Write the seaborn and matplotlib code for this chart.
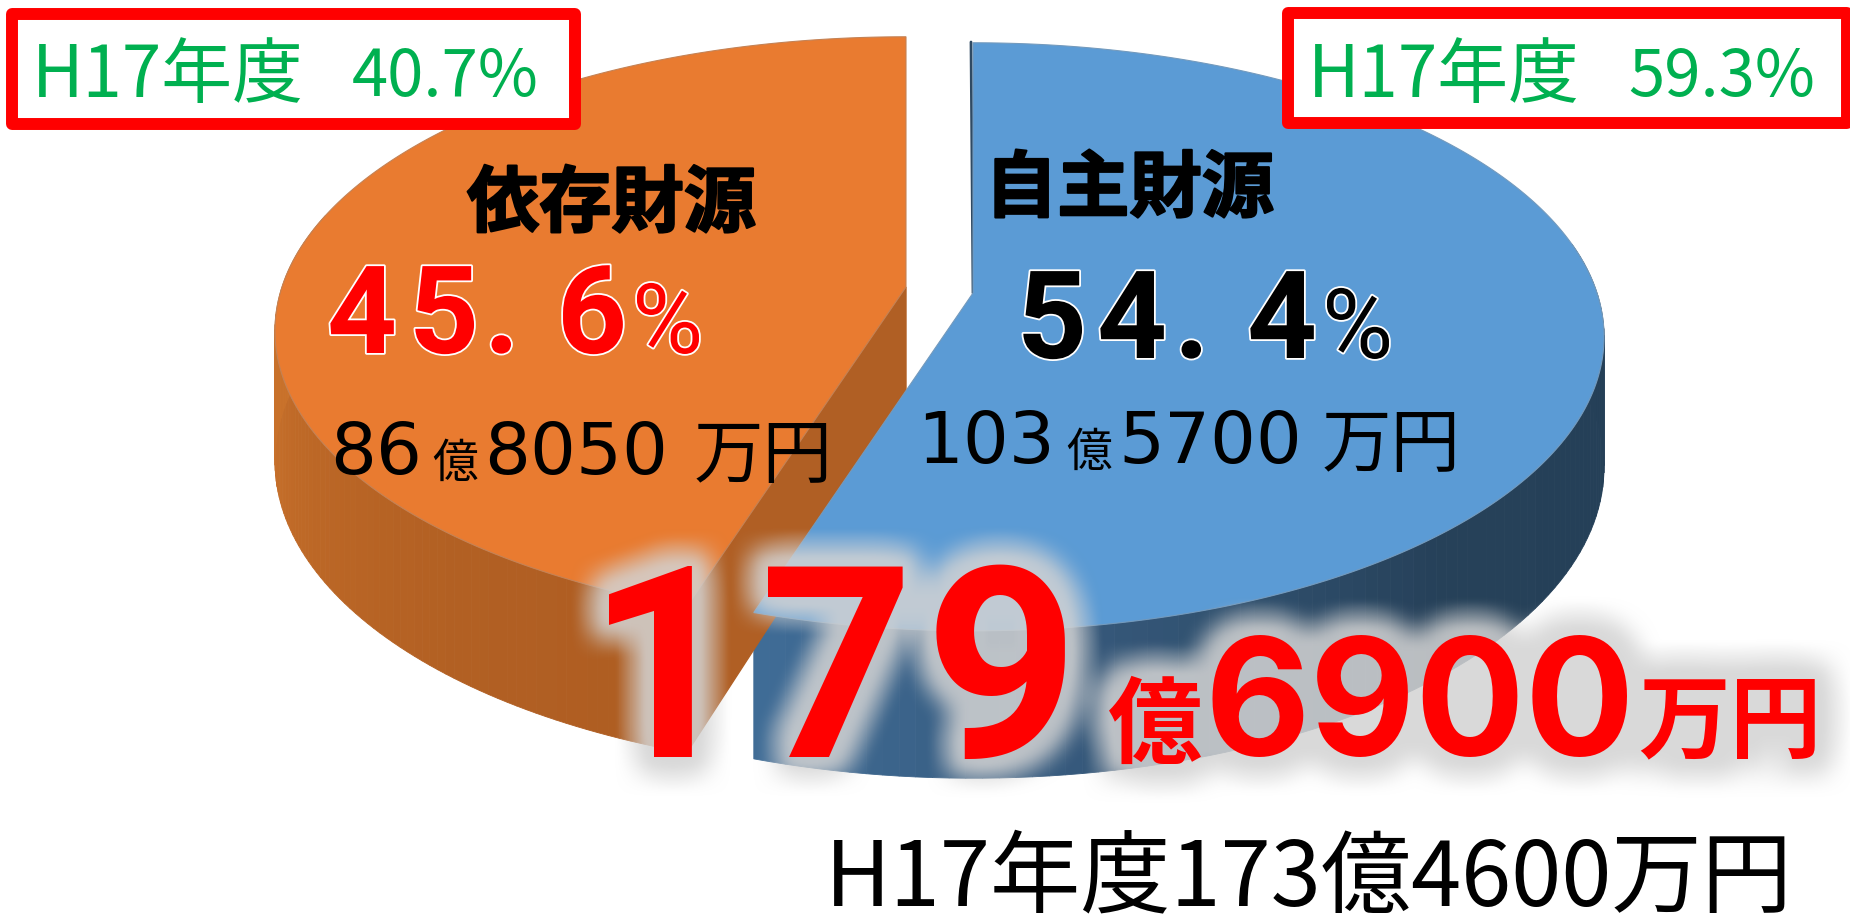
"""3D-look pie of revenue sources with the total in big red type."""
import matplotlib

matplotlib.use("Agg")

import matplotlib.patheffects as pe
import matplotlib.pyplot as plt
import numpy as np
import seaborn as sns
from matplotlib.patches import Rectangle

SHARES = [54.4, 45.6]  # 自主財源, 依存財源
NAMES = ["自主財源", "依存財源"]
PREV_LABEL = "H17年度"
PREV_SHARES = ["59.3%", "40.7%"]
TOTAL_PARTS = ["179", "億", "6900", "万円"]
PREV_TOTAL = "H17年度173億4600万円"

W, H = 1850, 914
PERSP = 0.149  # near rim drawn larger than far rim
RX, RY = 624, 287.5
RX_LOW, RY_LOW = 624, 304
DEPTH = 128
BLUE_APEX = (973, 293)
ORANGE_APEX = (906, 287)
JP = "Noto Sans CJK JP"
LATIN = "Inter"

sns.set_theme(style="white")
plt.rcParams["font.family"] = [JP, "DejaVu Sans"]


def project(theta, apex, rx, ry, drop=0):
    t = np.radians(theta)
    u, v = np.sin(t), -np.cos(t)
    d = 1 - PERSP * v
    return apex[0] + rx * u / d, apex[1] + drop + ry * v / d


def draw_side(ax, apex, start, end, colors, n=90):
    thetas = np.linspace(start, end, n + 1)
    pal = sns.blend_palette(colors, n)
    for a, b, c in zip(thetas[:-1], thetas[1:], pal):
        xt, yt = project(np.array([a, b]), apex, RX, RY)
        xb, yb = project(np.array([b, a]), apex, RX_LOW, RY_LOW, DEPTH)
        ax.fill(np.r_[xt, xb], np.r_[yt, yb], color=c, lw=0.6, zorder=2)


def draw_top(ax, apex, start, end, color):
    thetas = np.linspace(start, end, 300)
    x, y = project(thetas, apex, RX, RY)
    ax.fill(np.r_[apex[0], x], np.r_[apex[1], y], facecolor=color,
            edgecolor=sns.desaturate(color, 0.6), lw=0.8, zorder=3)


def big_total(ax, **kw):
    # the three big digits sit wider apart than the font sets them
    for x, ch in zip([587, 760, 925], TOTAL_PARTS[0]):
        ax.text(x, 757, ch, fontsize=193, family="Roboto", weight="bold", color="red", **kw)
    ax.text(1108, 756, TOTAL_PARTS[1], fontsize=68, family=JP, weight="bold", color="red", **kw)
    ax.text(1204, 755, TOTAL_PARTS[2], fontsize=117, family=LATIN, weight="bold", color="red", **kw)
    ax.text(1638, 750, TOTAL_PARTS[3], fontsize=66, family=JP, weight="bold", color="red", **kw)


def box_blur(a, r):
    kernel = np.ones(2 * r + 1) / (2 * r + 1)
    a = np.apply_along_axis(np.convolve, 0, a, kernel, mode="same")
    return np.apply_along_axis(np.convolve, 1, a, kernel, mode="same")


def glow_layer():
    """Blurred grey halo behind the total, from an offscreen render of it."""
    fig = plt.figure(figsize=(W / 100, H / 100), dpi=100)
    ax = fig.add_axes([0, 0, 1, 1])
    ax.set(xlim=(0, W), ylim=(H, 0))
    ax.axis("off")
    big_total(ax)
    fig.canvas.draw()
    rgba = np.asarray(fig.canvas.buffer_rgba()).astype(float) / 255
    plt.close(fig)
    mask = 1 - rgba[..., 1]
    grown = np.clip(box_blur(mask, 26) * 8, 0, 1)
    alpha = box_blur(grown, 14) * 0.86
    layer = np.ones((H, W, 4)) * (211 / 255)
    layer[..., 3] = alpha
    return layer


def pct(ax, xs, base, parts, color):
    outline = [pe.withStroke(linewidth=2.6, foreground="white")]
    for x, s in zip(xs, parts):
        size = 70 if s == "%" else 88
        weight = "normal" if s == "%" else "bold"
        ax.text(x, base, s, fontsize=size, family="Roboto", weight=weight, color=color, path_effects=outline)


def money(ax, xs, base, parts):
    ax.text(xs[0], base, parts[0], fontsize=52, family="DejaVu Sans", color="black")
    ax.text(xs[1], base + 3, parts[1], fontsize=33, family=JP, color="black")
    ax.text(xs[2], base, parts[2], fontsize=52, family="DejaVu Sans", color="black")
    ax.text(xs[3], base + 3, parts[3], fontsize=50, family=JP, color="black")


fig = plt.figure(figsize=(W / 100, H / 100), dpi=100)
ax = fig.add_axes([0, 0, 1, 1])
ax.axis("off")

split = SHARES[0] / 100 * 360 + 1.7

# sides first, tops cover whatever runs behind them
draw_side(ax, BLUE_APEX, 80, split, ["#243E55", "#254058", "#264159", "#345677", "#3F6C96"])
xc, yc = project(split, ORANGE_APEX, RX, RY)
xl, yl = project(split, ORANGE_APEX, RX_LOW, RY_LOW, DEPTH)
ax.fill([ORANGE_APEX[0], xc, xl, ORANGE_APEX[0]],
        [ORANGE_APEX[1], yc, yl, ORANGE_APEX[1] + DEPTH],
        color="#B05F24", zorder=2.5)
draw_side(ax, ORANGE_APEX, split, 285, ["#AE5D22", "#B26023", "#BC6726", "#C8712B", "#CB742C"])
draw_top(ax, ORANGE_APEX, split, 360, "#E97B30")
ax.plot([BLUE_APEX[0] - 2, BLUE_APEX[0]], [BLUE_APEX[1] - 251, BLUE_APEX[1]], color="#2F4A63", lw=2, zorder=2.9)
draw_top(ax, BLUE_APEX, 0, split, "#5B9BD5")

# previous-year boxes
ax.add_patch(Rectangle((12, 14), 563, 110, fc="white", ec="red", lw=8.6, joinstyle="round", zorder=4))
ax.add_patch(Rectangle((1288, 13), 559, 110, fc="white", ec="red", lw=8.6, joinstyle="round", zorder=4))
for x_lab, x_val, val in [(32, 352, PREV_SHARES[1]), (1308, 1628, PREV_SHARES[0])]:
    ax.text(x_lab, 97, PREV_LABEL, fontsize=51, color="#00B050", zorder=5)
    ax.text(x_val, 96, val, fontsize=47, color="#00B050", zorder=5)

heavy = [pe.withStroke(linewidth=1.6, foreground="black")]
ax.text(467, 226, NAMES[1], fontsize=52, weight="bold", color="black", zorder=5, path_effects=heavy)
ax.text(985, 211, NAMES[0], fontsize=52, weight="bold", color="black", zorder=5, path_effects=heavy)

pct(ax, [327, 409, 484, 557, 632], 353, ["4", "5", ".", "6", "%"], "red")
pct(ax, [1017, 1097, 1174, 1247, 1322], 358, ["5", "4", ".", "4", "%"], "black")

money(ax, [330, 432, 484, 694], 474, ["86", "億", "8050", "万円"])
money(ax, [917, 1066, 1118, 1322], 463, ["103", "億", "5700", "万円"])

ax.imshow(glow_layer(), extent=(0, W, H, 0), aspect="auto", zorder=6, interpolation="bilinear")
big_total(ax, zorder=7)
ax.text(825, 905, PREV_TOTAL, fontsize=65, color="black", zorder=7)

ax.set_xlim(0, W)
ax.set_ylim(H, 0)
fig.savefig("out.png", dpi=100)
